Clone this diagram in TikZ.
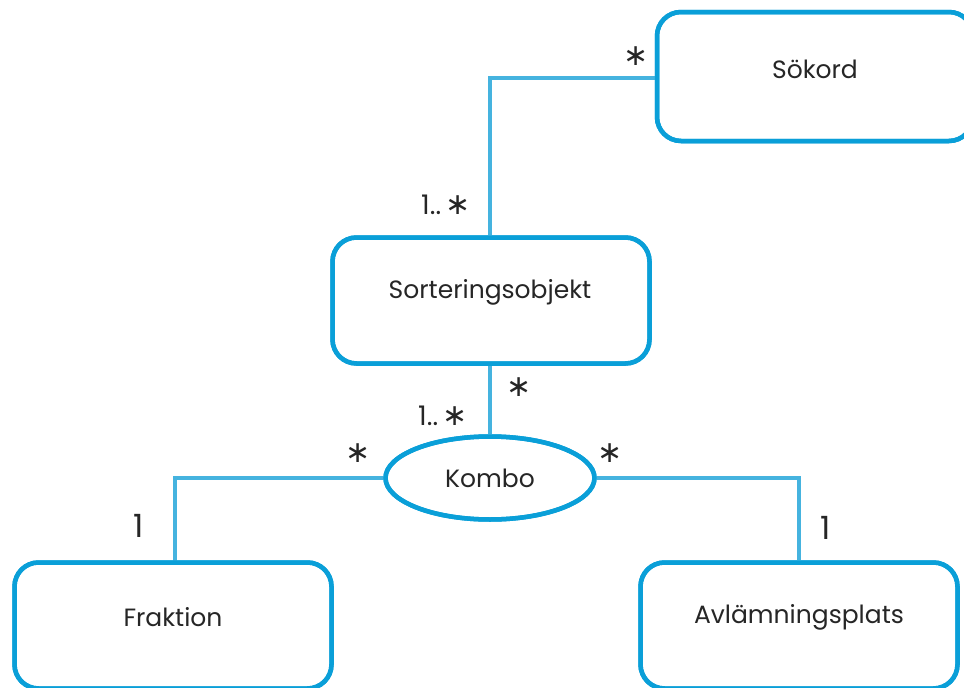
\documentclass[tikz,border=0pt]{standalone}
\usepackage{fontspec}
\setmainfont{Poppins}
\newfontfamily\symfont{DejaVu Sans}
\usetikzlibrary{shapes.geometric}
\definecolor{boxblue}{HTML}{0A9FD8}
\definecolor{lineblue}{HTML}{45B3DF}
\newcommand\mstar{{\symfont\fontsize{30}{30}\selectfont ∗}}
\begin{document}
\begin{tikzpicture}[x=1pt,y=-1pt,
  cls/.style={draw=boxblue,line width=4.5pt,rounded corners=24pt,fill=white,inner sep=0pt},
  assoc/.style={draw=boxblue,line width=4.5pt,ellipse,fill=white,inner sep=0pt,minimum width=209pt,minimum height=83pt},
  conn/.style={draw=lineblue,line width=4.5pt},
  mult/.style={inner sep=0pt,font=\fontsize{27}{30}\selectfont\color{black!85}},
  one/.style={inner sep=0pt,font=\fontsize{32}{34}\selectfont\color{black!85}},
  lbl/.style={font=\fontsize{25}{28}\selectfont,text=black!85}]
\useasboundingbox (0,0) rectangle (964,688);
\node[cls,minimum width=316pt,minimum height=129pt] (sok) at (815,76.5) {};
\node[cls,minimum width=317pt,minimum height=126pt] (sort) at (491,300.5) {};
\node[cls,minimum width=317pt,minimum height=126pt] (fra) at (173,625.5) {};
\node[cls,minimum width=317pt,minimum height=126pt] (avl) at (799,625.5) {};
\node[assoc] (kombo) at (490,478) {};
% connectors
\draw[conn] (sok.west |- 0,78) -- (490,78) -- (sort.north -| 490,0);
\draw[conn] (sort.south -| 490,0) -- (kombo.north);
\draw[conn] (kombo.west) -| (175,562);
\draw[conn] (kombo.east) -| (avl.north);
% redraw node outlines over line ends
\node[cls,fill=none,minimum width=316pt,minimum height=129pt] at (815,76.5) {};
\node[cls,fill=none,minimum width=317pt,minimum height=126pt] at (491,300.5) {};
\node[cls,fill=none,minimum width=317pt,minimum height=126pt] at (173,625.5) {};
\node[cls,fill=none,minimum width=317pt,minimum height=126pt] at (799,625.5) {};
\node[assoc,fill=none] at (490,478) {};
% texts
\node[lbl] (tsok) at (815,69) {Sökord};
\node[lbl] (tsort) at (490,292) {Sorteringsobjekt};
\node[lbl] (tkombo) at (490,478) {Kombo};
\node[lbl] (tfra) at (173,617) {Fraktion};
\node[lbl] (tavl) at (799,617) {Avlämningsplats};
% multiplicities
\node[mult] (m1) at (636,56) {\mstar};
\node[mult] (m2) at (446,205) {1..\,\mstar};
\node[mult] (m3) at (519,387) {\mstar};
\node[mult] (m4) at (443,416) {1..\,\mstar};
\node[mult] (m5) at (358,453) {\mstar};
\node[mult] (m6) at (610,453) {\mstar};
\node[one] (m7) at (139,526) {1};
\node[one] (m8) at (826,528) {1};
\end{tikzpicture}
\end{document}
